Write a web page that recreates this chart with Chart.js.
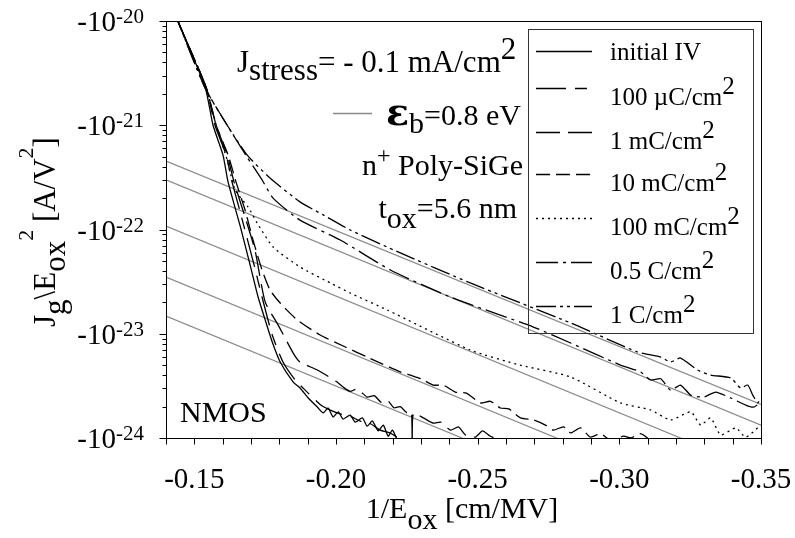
<!DOCTYPE html>
<html><head><meta charset="utf-8">
<script src="https://cdn.jsdelivr.net/npm/chart.js@4"></script>
<style>html,body{margin:0;padding:0;background:#fff}canvas{display:block}</style>
</head><body>
<canvas id="c" width="795" height="538"></canvas>
<script>
// ---------- DATA ----------
const seriesNames = ['initial IV', '100 µC/cm', '1 mC/cm', '10 mC/cm', '100 mC/cm', '0.5 C/cm', '1 C/cm'];
const seriesSup   = ['', '2', '2', '2', '2', '2', '2'];

const initIV = [[-0.1432,-1.28e-20],[-0.1442,-1.0e-20],[-0.1538,-2.33e-21],[-0.1566,-1.0e-21],[-0.1601,-5.19e-22],[-0.1619,-2.86e-22],[-0.1644,-1.61e-22],[-0.1661,-1.10e-22],[-0.1697,-4.56e-23],[-0.1725,-2.25e-23],[-0.1750,-1.36e-23],[-0.1775,-8.34e-24],[-0.1803,-5.36e-24],[-0.1849,-3.44e-24],[-0.1873,-3.02e-24],[-0.1902,-2.42e-24],[-0.1934,-1.98e-24],[-0.1955,-1.74e-24],[-0.1972,-1.94e-24],[-0.1990,-1.59e-24],[-0.2008,-1.78e-24],[-0.2025,-1.52e-24],[-0.2050,-1.66e-24],[-0.2068,-1.42e-24],[-0.2093,-1.56e-24],[-0.2110,-1.30e-24],[-0.2128,-1.46e-24],[-0.2149,-1.17e-24],[-0.2167,-1.33e-24],[-0.2184,-1.04e-24],[-0.2199,-1.19e-24],[-0.2216,-0.96e-24]];
const uC100 = [[-0.1432,-1.28e-20],[-0.1442,-1.0e-20],[-0.1541,-2.33e-21],[-0.1573,-1.0e-21],[-0.1612,-5.19e-22],[-0.1633,-2.86e-22],[-0.1658,-1.61e-22],[-0.1711,-4.56e-23],[-0.1739,-2.25e-23],[-0.1775,-9.73e-24],[-0.1813,-5.36e-24],[-0.1856,-3.60e-24],[-0.1891,-2.88e-24],[-0.1944,-2.10e-24],[-0.1980,-1.85e-24],[-0.2015,-1.70e-24],[-0.2050,-1.62e-24],[-0.2086,-1.45e-24],[-0.2120,-1.38e-24],[-0.2156,-1.19e-24],[-0.2190,-1.12e-24],[-0.2215,-1.02e-24],[-0.2244,-0.90e-24]];
const mC1 = [[-0.1432,-1.28e-20],[-0.1442,-1.0e-20],[-0.1541,-2.33e-21],[-0.1577,-1.0e-21],[-0.1616,-5.19e-22],[-0.1640,-2.86e-22],[-0.1669,-1.61e-22],[-0.1714,-6.35e-23],[-0.1750,-2.02e-23],[-0.1796,-1.21e-23],[-0.1849,-6.53e-24],[-0.1873,-5.36e-24],[-0.1934,-4.49e-24],[-0.2004,-3.44e-24],[-0.2025,-3.08e-24],[-0.2050,-2.80e-24],[-0.2075,-2.95e-24],[-0.2110,-2.47e-24],[-0.2135,-2.55e-24],[-0.2160,-2.20e-24],[-0.2181,-2.30e-24],[-0.2205,-1.95e-24],[-0.2227,-2.00e-24],[-0.2250,-1.75e-24],[-0.2266,-1.80e-24],[-0.2269,-0.90e-24],[-0.2273,-1.72e-24],[-0.2308,-1.56e-24],[-0.2343,-1.39e-24],[-0.2370,-1.42e-24],[-0.2404,-1.19e-24],[-0.2432,-1.28e-24],[-0.2457,-1.07e-24],[-0.2492,-1.02e-24],[-0.2517,-1.17e-24],[-0.2545,-1.04e-24],[-0.2580,-0.95e-24]];
const mC10 = [[-0.1432,-1.28e-20],[-0.1442,-1.0e-20],[-0.1541,-2.33e-21],[-0.1577,-1.0e-21],[-0.1619,-5.19e-22],[-0.1647,-2.86e-22],[-0.1679,-1.54e-22],[-0.1707,-7.93e-23],[-0.1739,-4.09e-23],[-0.1767,-2.63e-23],[-0.1803,-1.97e-23],[-0.1863,-1.36e-23],[-0.1944,-9.73e-24],[-0.2033,-7.46e-24],[-0.2110,-5.98e-24],[-0.2227,-4.30e-24],[-0.2270,-3.95e-24],[-0.2300,-3.70e-24],[-0.2343,-3.22e-24],[-0.2380,-3.20e-24],[-0.2421,-2.76e-24],[-0.2460,-2.70e-24],[-0.2510,-2.17e-24],[-0.2545,-2.25e-24],[-0.2580,-1.94e-24],[-0.2610,-1.90e-24],[-0.2651,-1.56e-24],[-0.2697,-1.49e-24],[-0.2739,-1.33e-24],[-0.2767,-1.19e-24],[-0.2803,-1.28e-24],[-0.2828,-1.12e-24],[-0.2863,-1.25e-24],[-0.2898,-1.02e-24],[-0.2934,-1.10e-24],[-0.2969,-0.95e-24],[-0.3015,-1.04e-24],[-0.3040,-1.0e-24],[-0.3075,-1.10e-24],[-0.3110,-0.95e-24]];
const mC100 = [[-0.1432,-1.28e-20],[-0.1442,-1.0e-20],[-0.1541,-2.33e-21],[-0.1577,-1.0e-21],[-0.1616,-4.64e-22],[-0.1644,-2.39e-22],[-0.1690,-1.64e-22],[-0.1722,-1.15e-22],[-0.1778,-6.79e-23],[-0.1873,-4.37e-23],[-0.1980,-3.07e-23],[-0.2050,-2.46e-23],[-0.2181,-1.69e-23],[-0.2474,-6.98e-24],[-0.2650,-5.0e-24],[-0.2828,-3.85e-24],[-0.3004,-2.17e-24],[-0.3110,-1.86e-24],[-0.3181,-1.49e-24],[-0.3252,-1.78e-24],[-0.3287,-1.33e-24],[-0.3322,-1.56e-24],[-0.3358,-1.07e-24],[-0.3411,-1.25e-24],[-0.3446,-1.02e-24],[-0.3499,-1.33e-24]];
const C05 = [[-0.1432,-1.28e-20],[-0.1442,-1.0e-20],[-0.1538,-2.28e-21],[-0.1616,-1.0e-21],[-0.1686,-4.95e-22],[-0.1739,-2.99e-22],[-0.1778,-2.00e-22],[-0.1873,-1.23e-22],[-0.2015,-7.93e-23],[-0.2192,-4.09e-23],[-0.2404,-2.25e-23],[-0.2697,-1.16e-23],[-0.2828,-8.15e-24],[-0.3004,-5.01e-24],[-0.3075,-4.30e-24],[-0.3110,-3.60e-24],[-0.3146,-3.70e-24],[-0.3181,-2.88e-24],[-0.3216,-3.22e-24],[-0.3252,-2.58e-24],[-0.3298,-2.47e-24],[-0.3340,-2.76e-24],[-0.3393,-2.42e-24],[-0.3446,-2.07e-24],[-0.3474,-1.98e-24],[-0.3499,-2.19e-24]];
const C1 = [[-0.1432,-1.28e-20],[-0.1442,-1.0e-20],[-0.1538,-2.28e-21],[-0.1616,-1.0e-21],[-0.1686,-5.19e-22],[-0.1767,-3.12e-22],[-0.1873,-1.84e-22],[-0.1955,-1.38e-22],[-0.2050,-9.89e-23],[-0.2227,-5.96e-23],[-0.2474,-3.07e-23],[-0.2828,-1.27e-23],[-0.3064,-6.68e-24],[-0.3146,-5.98e-24],[-0.3181,-5.36e-24],[-0.3216,-5.85e-24],[-0.3276,-4.49e-24],[-0.3322,-4.02e-24],[-0.3393,-3.77e-24],[-0.3428,-3.02e-24],[-0.3453,-3.22e-24],[-0.3471,-2.58e-24],[-0.3488,-2.17e-24],[-0.3499,-2.42e-24]];

// Fowler-Nordheim fit lines (eps_b = 0.8 eV), endpoints
const fit1 = [[-0.14,-4.54e-22],[-0.35,-2.1e-24]];
const fit2 = [[-0.14,-2.99e-22],[-0.35,-1.33e-24]];
const fit3 = [[-0.14,-1.08e-22],[-0.33,-8.05e-25]];
const fit4 = [[-0.14,-3.5e-23],[-0.29,-7.3e-25]];
const fit5 = [[-0.14,-1.48e-23],[-0.26,-6.7e-25]];

const xTickValues = [-0.15, -0.20, -0.25, -0.30, -0.35];
const xTickLabels = ['-0.15', '-0.20', '-0.25', '-0.30', '-0.35'];
const yTickExps   = [-20, -21, -22, -23, -24];

// ---------- STYLES ----------
const curves = [initIV, uC100, mC1, mC10, mC100, C05, C1];
const fits = [fit1, fit2, fit3, fit4, fit5];
const dashes = [[], [30,9,12,9], [24,8], [14,6], [2,4], [22,5,3,5], [20,4,3,4,3,4]];
const legendLineY = [51, 88, 132, 174, 218, 262, 306];
const FONT = '"Liberation Serif","Times New Roman",serif';

function rich(ctx, parts, x, y, align) {
  let w = 0;
  const fontOf = p => (p[3] || '') + ' ' + p[1] + 'px ' + (p[4] || FONT);
  for (const p of parts) { ctx.font = fontOf(p); w += ctx.measureText(p[0]).width; }
  let cx = align === 'right' ? x - w : align === 'center' ? x - w / 2 : x;
  ctx.textAlign = 'left'; ctx.textBaseline = 'alphabetic';
  for (const p of parts) {
    ctx.font = fontOf(p);
    ctx.fillText(p[0], cx, y + (p[2] || 0));
    cx += ctx.measureText(p[0]).width;
  }
}
function seg(ctx, x1, y1, x2, y2) { ctx.beginPath(); ctx.moveTo(x1, y1); ctx.lineTo(x2, y2); ctx.stroke(); }

const decor = {
  id: 'decor',
  afterDraw(chart) {
    const { ctx, chartArea: a, scales } = chart;
    const xs = scales.x, ys = scales.y;
    ctx.save();
    ctx.fillStyle = '#000'; ctx.strokeStyle = '#000'; ctx.lineWidth = 1;
    // frame
    ctx.strokeRect(Math.round(a.left) + 0.5, Math.round(a.top) + 0.5, Math.round(a.right - a.left), Math.round(a.bottom - a.top));
    const L = Math.round(a.left) + 0.5, B = Math.round(a.bottom) + 0.5;
    // y ticks
    for (let e = -24; e <= -20; e++) {
      const py = Math.round(ys.getPixelForValue(Math.pow(10, e))) + 0.5;
      seg(ctx, L - 7, py, L, py);
      if (e < -20) for (let m = 2; m <= 9; m++) {
        const q = Math.round(ys.getPixelForValue(m * Math.pow(10, e))) + 0.5;
        seg(ctx, L - 4, q, L, q);
      }
    }
    yTickExps.forEach(e => {
      const py = ys.getPixelForValue(Math.pow(10, e));
      rich(ctx, [['-10', 29, 0], [String(e), 21, -8]], 144, py + 10, 'right');
    });
    // x ticks
    for (let i = 14; i <= 35; i++) {
      const px = Math.round(xs.getPixelForValue(-i / 100)) + 0.5;
      seg(ctx, px, B, px, B + 6);
    }
    xTickValues.forEach((v, i) => {
      rich(ctx, [[xTickLabels[i], 29]], xs.getPixelForValue(v), 488, 'center');
    });
    // axis titles
    rich(ctx, [['1/E', 30], ['ox', 30, 11], [' [cm/MV]', 30]], 462, 518, 'center');
    ctx.save(); ctx.translate(55, 232); ctx.rotate(-Math.PI / 2);
    rich(ctx, [['J', 31], ['g', 31, 10], ['\\', 31], ['E', 31], ['ox', 31, 10], ['2', 22, -22], [' [A/V', 31], ['2', 22, -22], [']', 31]], 0, 0, 'center');
    ctx.restore();
    // annotations
    rich(ctx, [['J', 31], ['stress', 31, 8], ['= - 0.1 mA/cm', 31], ['2', 31, -13]], 237, 72, 'left');
    ctx.strokeStyle = '#888'; ctx.lineWidth = 1.3; seg(ctx, 333, 113.5, 372, 113.5);
    rich(ctx, [['ε', 38, 0, 'bold', '"DejaVu Serif",serif'], ['b', 30, 8], ['=0.8 eV', 30]], 521, 125, 'right');
    rich(ctx, [['n', 30], ['+', 24, -12], [' Poly-SiGe', 30]], 523, 175, 'right');
    rich(ctx, [['t', 30], ['ox', 30, 10], ['=5.6 nm', 30]], 517, 218, 'right');
    rich(ctx, [['NMOS', 30]], 180, 422, 'left');
    // legend
    ctx.strokeStyle = '#333'; ctx.lineWidth = 1;
    ctx.strokeRect(528.5, 29.5, 225, 304);
    seriesNames.forEach((n, i) => {
      const ly = legendLineY[i] + 0.5;
      ctx.strokeStyle = '#000'; ctx.lineWidth = 1.3; ctx.setLineDash(dashes[i]);
      seg(ctx, 536, ly, 592, ly);
      ctx.setLineDash([]);
      const base = seriesSup[i] ? legendLineY[i] + 17 : legendLineY[i] + 9;
      rich(ctx, [[n, 25], [seriesSup[i], 25, -11]], 610, base, 'left');
    });
    ctx.restore();
  }
};

const datasets = curves.map((d, i) => ({
  label: seriesNames[i],
  data: d.map(p => ({ x: p[0], y: Math.abs(p[1]) })),
  borderColor: '#000', borderWidth: 1.3, borderDash: dashes[i],
  pointRadius: 0, tension: 0.2, fill: false
})).concat(fits.map(d => ({
  label: 'fit',
  data: d.map(p => ({ x: p[0], y: Math.abs(p[1]) })),
  borderColor: '#8a8a8a', borderWidth: 1.2, pointRadius: 0, tension: 0, fill: false
})));

new Chart(document.getElementById('c'), {
  type: 'line',
  data: { datasets },
  options: {
    responsive: false, animation: false, devicePixelRatio: 1,
    layout: { padding: { left: 166, right: 34, top: 21, bottom: 100 } },
    scales: {
      x: { type: 'linear', reverse: true, min: -0.35, max: -0.14, display: false },
      y: { type: 'logarithmic', min: 1e-24, max: 1e-20, display: false }
    },
    plugins: { legend: { display: false }, tooltip: { enabled: false } }
  },
  plugins: [decor]
});
</script>
</body></html>
